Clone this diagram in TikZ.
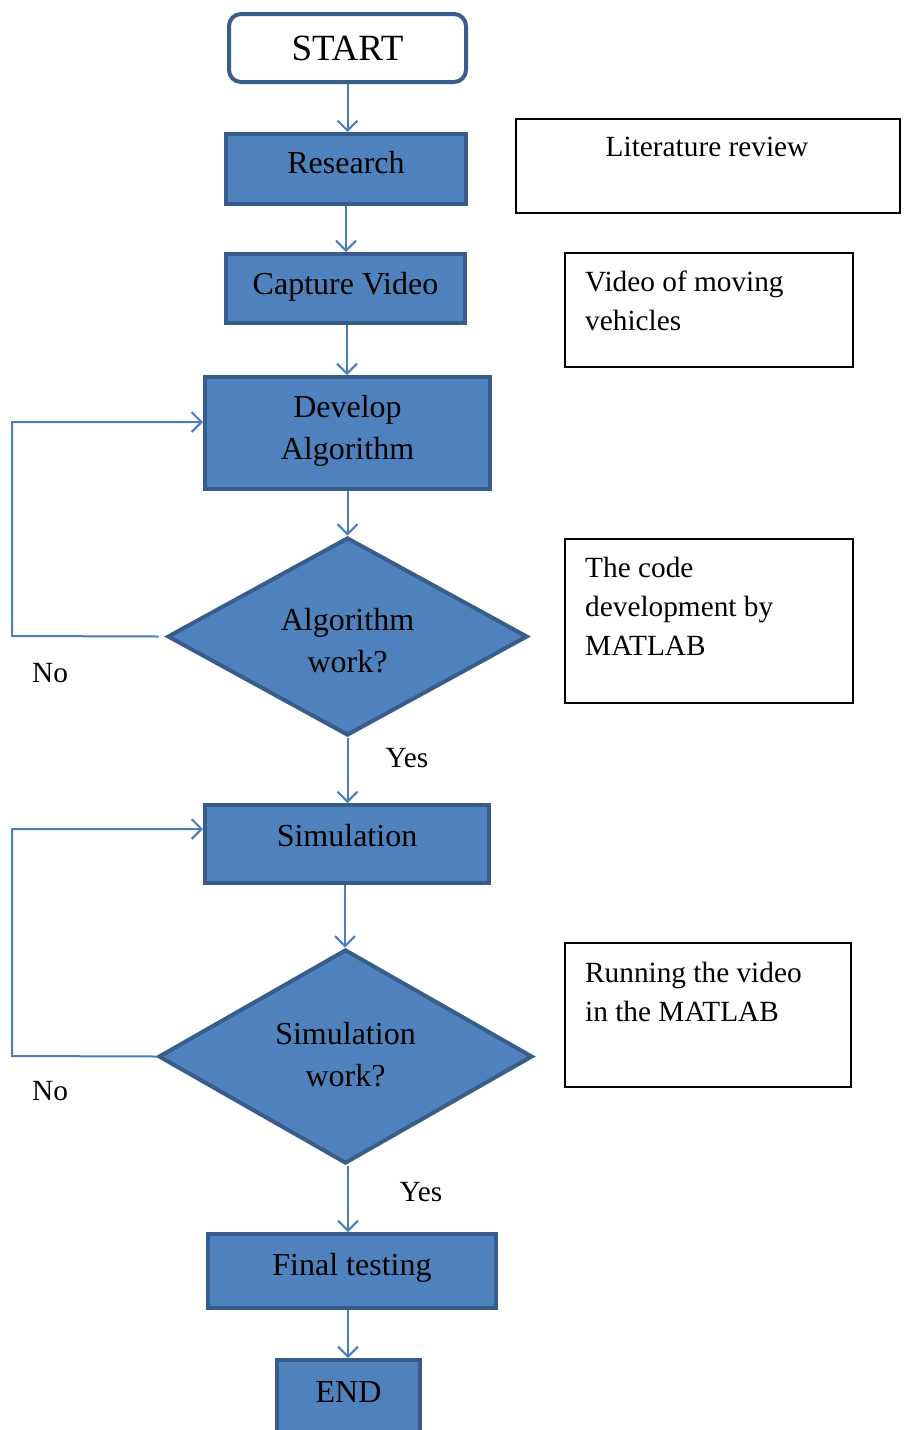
\documentclass[tikz,border=0pt]{standalone}
\usepackage{fontspec}
\setmainfont{Liberation Serif}
\usetikzlibrary{shapes.geometric,arrows.meta}
\definecolor{bfill}{HTML}{4F81BD}
\definecolor{bdraw}{HTML}{385D8A}
\definecolor{conn}{HTML}{4A7EBB}
\newcommand\myraise[2]{\raisebox{#1}[\height][\depth]{#2}}
\begin{document}
\begin{tikzpicture}[x=1pt,y=-1pt,
 proc/.style={rectangle, fill=bfill, draw=bdraw, line width=4pt, inner sep=0pt, font=\fontsize{32}{42}\selectfont, align=center},
 dec/.style={diamond, fill=bfill, draw=bdraw, line width=4pt, inner sep=0pt, font=\fontsize{32}{42}\selectfont, align=center},
 note/.style={rectangle, draw=black, line width=1.2pt, inner sep=0pt},
 notetext/.style={font=\fontsize{29.3}{39}\selectfont, inner sep=0pt, align=left},
 lbl/.style={font=\fontsize{29.3}{35}\selectfont, inner sep=0pt},
 arr/.style={draw=conn, line width=2pt, -{Straight Barb[length=10pt,width=20pt]}}]
\useasboundingbox (0,0) rectangle (904,1430);

% main flow
\node[proc, fill=white, rounded corners=12pt, minimum width=237pt, minimum height=68pt, font=\fontsize{37}{42}\selectfont] (start) at (347.5,48) {START};
\node[proc, minimum width=240pt, minimum height=70pt] (res) at (346,169) {\myraise{6pt}{Research}};
\node[proc, minimum width=239pt, minimum height=69pt] (cap) at (345.5,288.5) {\myraise{1.5pt}{Capture Video}};
\node[proc, minimum width=285pt, minimum height=112pt] (dev) at (347.5,433) {\myraise{2pt}{Develop}\\\myraise{2pt}{Algorithm}};
\node[dec, minimum width=360pt, minimum height=188pt] (d1) at (347.5,636.5) {\myraise{-4pt}{Algorithm}\\\myraise{-4pt}{work?}};
\node[proc, minimum width=284pt, minimum height=78pt] (sim) at (347,844) {\myraise{8pt}{Simulation}};
\node[dec, minimum width=374pt, minimum height=214pt] (d2) at (345.5,1056.5) {\myraise{2pt}{Simulation}\\\myraise{2pt}{work?}};
\node[proc, minimum width=288pt, minimum height=74pt] (fin) at (352,1271) {\myraise{3pt}{Final testing}};
\node[proc, minimum width=143pt, minimum height=80pt, text depth=16pt] (end) at (348.5,1400) {END};

% connectors
\draw[arr] (start.south) -- (start.south |- res.north);
\draw[arr] (res.south) -- (res.south |- cap.north);
\draw[arr] ([xshift=1.5pt]cap.south) -- ([xshift=1.5pt]cap.south |- dev.north);
\draw[arr] (dev.south) -- (dev.south |- d1.north);
\draw[arr] (d1.south) -- (d1.south |- sim.north);
\draw[arr] ([xshift=-2pt]sim.south) -- ([xshift=-2pt]sim.south |- d2.north);
\draw[arr] ([xshift=2.5pt]d2.south) -- ([xshift=2.5pt]d2.south |- fin.north);
\draw[arr] ([xshift=-4pt]fin.south) -- ([xshift=-4pt]fin.south |- end.north);

\coordinate (c1) at (12,636);
\coordinate (c2) at (12,1056);
\draw[arr] ([xshift=-7pt]d1.west) -- (c1) |- ([yshift=11pt]dev.west);
\draw[arr] (d2.west) -- (c2) |- ([yshift=15pt]sim.west);

% labels
\node[lbl] (no1) at (50,673) {No};
\node[lbl] (no2) at (50,1091) {No};
\node[lbl] (yes1) at (407,758) {Yes};
\node[lbl] (yes2) at (421,1192) {Yes};

% side notes
\node[note, minimum width=384pt, minimum height=94pt] (lit) at (708,166) {};
\node[note, minimum width=288pt, minimum height=114pt] (vid) at (709,310) {};
\node[note, minimum width=288pt, minimum height=164pt] (code) at (709,621) {};
\node[note, minimum width=286pt, minimum height=144pt] (run) at (708,1015) {};

\node[notetext, anchor=base] (littext) at (707,156) {Literature review};
\node[notetext, anchor=north west] (vidtext) at (585,271) {Video of moving\\vehicles};
\node[notetext, anchor=north west] (codetext) at (585,557) {The code\\development by\\MATLAB};
\node[notetext, anchor=north west] (runtext) at (585,962) {Running the video\\in the MATLAB};
\end{tikzpicture}
\end{document}
